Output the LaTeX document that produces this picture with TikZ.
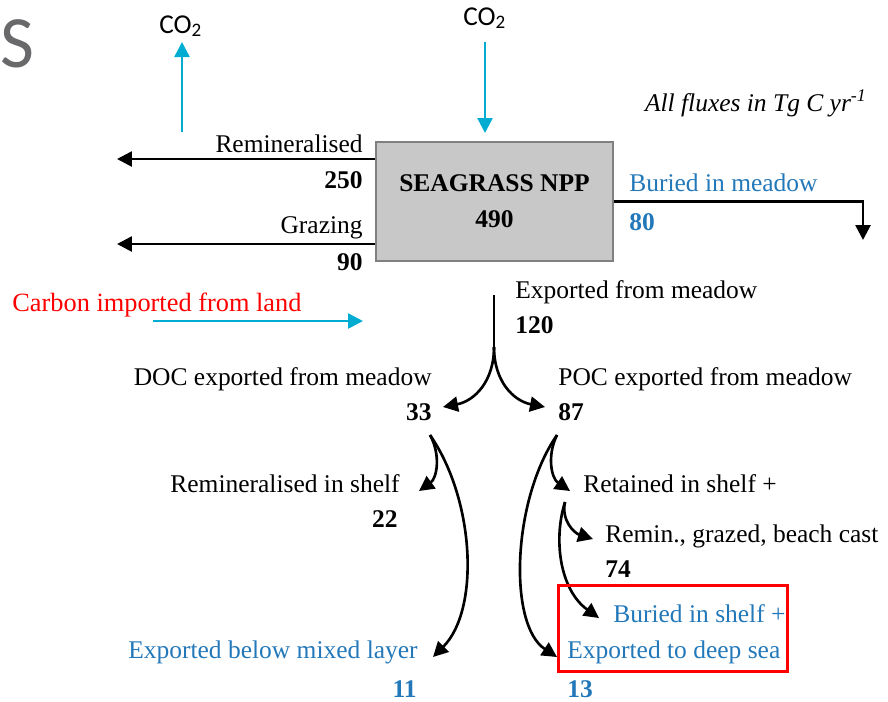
\documentclass[tikz,border=0pt]{standalone}
\usepackage{fontspec}
\setmainfont{Liberation Serif}
\newfontfamily\cofont{Carlito}
\usepackage{tikz}
\usetikzlibrary{arrows.meta, positioning, calc}
\definecolor{fluxblue}{RGB}{35,120,185}
\definecolor{co2cyan}{RGB}{0,172,210}
\definecolor{boxgray}{RGB}{200,200,200}
\definecolor{edgegray}{RGB}{128,128,128}
\definecolor{titlegray}{RGB}{105,105,108}
\tikzset{
    fluxlabel/.style={inner sep=0pt, font=\fontsize{14.5}{17}\selectfont},
    fluxnum/.style={inner sep=0pt, font=\fontsize{14.5}{17}\selectfont\bfseries},
    bluelabel/.style={fluxlabel, text=fluxblue},
    bluenum/.style={fluxnum, text=fluxblue},
    co2label/.style={inner sep=0pt, font=\fontsize{15.5}{18}\selectfont\cofont},
    nppbox/.style={rectangle, draw=edgegray, fill=boxgray, line width=1.1pt, minimum width=4.74cm, minimum height=2.38cm, align=center, font=\fontsize{14.5}{20.5}\selectfont\bfseries},
    flowarrow/.style={->, line width=1.5pt},
    co2arrow/.style={->, draw=co2cyan, line width=1.4pt},
    highlight/.style={draw=red, line width=1.7pt}
}

\begin{document}
\begin{tikzpicture}[x=0.02cm, y=-0.02cm, >={Triangle[length=0.3cm, width=0.3cm]}]
  \useasboundingbox (0,0) rectangle (888,701);
  \node[inner sep=0pt, anchor=base west, text=titlegray, font=\fontsize{42}{46}\selectfont\cofont] (ttl) at (0,67) {S};
  \node[nppbox] (npp) at (494.5,201.5) {SEAGRASS NPP\\490};
  \node[co2label, anchor=base west] (co2a) at (159,33) {CO\textsubscript{2}};
  \node[co2label, anchor=base west] (co2b) at (463,25) {CO\textsubscript{2}};
  \node[fluxlabel, anchor=base east] (n1) at (363,152) {Remineralised};
  \node[fluxnum, anchor=base east] (n2) at (363,188) {250};
  \node[fluxlabel, anchor=base east] (n3) at (363,233) {Grazing};
  \node[fluxnum, anchor=base east] (n4) at (363,270) {90};
  \node[bluelabel, anchor=base west] (n5) at (629,191) {Buried in meadow};
  \node[bluenum, anchor=base west] (n6) at (629,230) {80};
  \node[fluxlabel, anchor=base east] (unit) at (867,111) {\itshape All fluxes in Tg C yr\textsuperscript{-1}};
  \node[fluxlabel, anchor=base west, text=red, font=\fontsize{15}{18}\selectfont] (land) at (12,311) {Carbon imported from land};
  \node[fluxlabel, anchor=base west] (n7) at (515,298) {Exported from meadow};
  \node[fluxnum, anchor=base west] (n8) at (515,333) {120};
  \node[fluxlabel, anchor=base east] (n9) at (432,385) {DOC exported from meadow};
  \node[fluxnum, anchor=base east] (n10) at (432,420) {33};
  \node[fluxlabel, anchor=base west] (n11) at (558,385) {POC exported from meadow};
  \node[fluxnum, anchor=base west] (n12) at (558,420) {87};
  \node[fluxlabel, anchor=base east] (n13) at (400,492) {Remineralised in shelf};
  \node[fluxnum, anchor=base east] (n14) at (398,527) {22};
  \node[fluxlabel, anchor=base west] (n15) at (583,492) {Retained in shelf +};
  \node[fluxlabel, anchor=base west] (n16) at (605,542) {Remin., grazed, beach cast};
  \node[fluxnum, anchor=base west] (n17) at (605,577) {74};
  \node[bluelabel, anchor=base west] (n18) at (613,622) {Buried in shelf +};
  \node[bluelabel, anchor=base east] (n19) at (418,658) {Exported below mixed layer};
  \node[bluenum, anchor=base east] (n20) at (417,697) {11};
  \node[bluelabel, anchor=base west] (n21) at (567,658) {Exported to deep sea};
  \node[bluenum, anchor=base west] (n22) at (567,697) {13};
  % arrow ends
  \coordinate (c1) at (182,132);
  \coordinate (c2) at (182,42);
  \coordinate (c3) at (485,42);
  \coordinate (c4) at (485,133);
  \coordinate (c5) at (117,159);
  \coordinate (c6) at (117,244);
  \coordinate (c7) at (863,240);
  \coordinate (c8) at (153,321);
  \coordinate (c9) at (363,321);
  \coordinate (t0) at (494,295);
  \coordinate (t1) at (494,347);
  \coordinate (t2) at (443,407);
  \coordinate (t3) at (545,407);
  \coordinate (d0) at (430,435);
  \coordinate (d1) at (419,491);
  \coordinate (d2) at (433,657);
  \coordinate (p0) at (557,435);
  \coordinate (p1) at (570,491);
  \coordinate (p2) at (557,657);
  \coordinate (r0) at (565,502);
  \coordinate (r1) at (593,539);
  \coordinate (r2) at (599,618);
  \draw[co2arrow] (c1) -- (c2);
  \draw[co2arrow] (c3) -- (c4);
  \draw[co2arrow] (c8) -- (c9);
  \draw[flowarrow] (npp.west |- c5) -- (c5);
  \draw[flowarrow] (npp.west |- c6) -- (c6);
  \draw[flowarrow] (npp.east) -| (c7);
  \draw[line width=1.5pt] (t0) -- (t1);
  \draw[flowarrow] (t1) .. controls (494,382) and (474,401) .. (t2);
  \draw[flowarrow] (t1) .. controls (494,382) and (514,401) .. (t3);
  \draw[flowarrow] (d0) .. controls (441,455) and (437,478) .. (d1);
  \draw[flowarrow] (d0) .. controls (475,500) and (480,610) .. (d2);
  \draw[flowarrow] (p0) .. controls (547,455) and (551,478) .. (p1);
  \draw[flowarrow] (p0) .. controls (512,500) and (508,625) .. (p2);
  \draw[flowarrow] (r0) .. controls (561,520) and (574,533) .. (r1);
  \draw[flowarrow] (r0) .. controls (553,540) and (560,590) .. (r2);
  \draw[highlight] (558,585) rectangle (787,671);
\end{tikzpicture}
\end{document}
